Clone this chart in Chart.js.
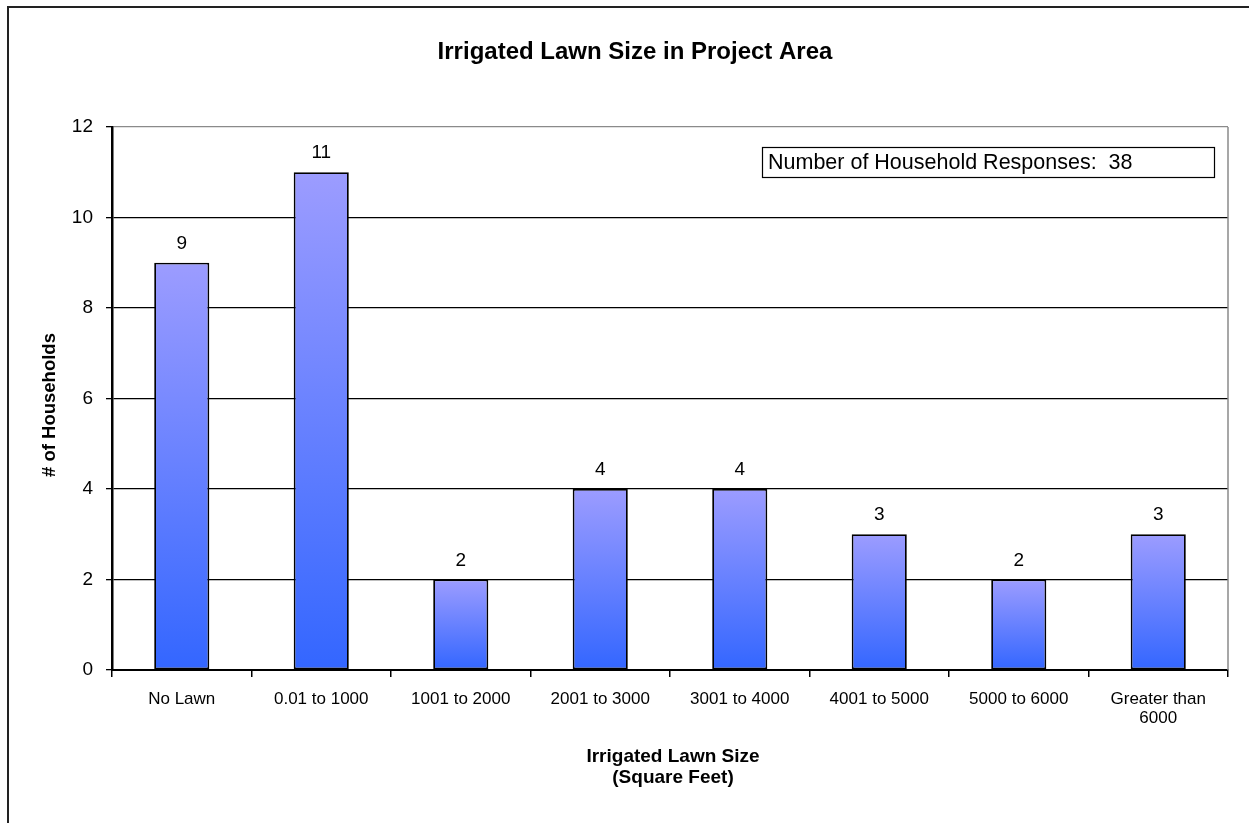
<!DOCTYPE html>
<html>
<head>
<meta charset="utf-8">
<script src="https://cdn.jsdelivr.net/npm/chart.js@4.4.1/dist/chart.umd.min.js"></script>
<style>
  html, body { margin: 0; padding: 0; background: #fff; }
  #wrap { position: relative; width: 1249px; height: 823px; }
</style>
</head>
<body>
<div id="wrap"><canvas id="c" width="1249" height="823"></canvas></div>
<script>
const categories = [
  'No Lawn', '0.01 to 1000', '1001 to 2000', '2001 to 3000',
  '3001 to 4000', '4001 to 5000', '5000 to 6000', ['Greater than', '6000']
];
const households = [9, 11, 2, 4, 4, 3, 2, 3];
const yTicks = [0, 2, 4, 6, 8, 10, 12];
const chartTitle = 'Irrigated Lawn Size in Project Area';
const yTitle = '# of Households';
const xTitle = ['Irrigated Lawn Size', '(Square Feet)'];
const responseNote = 'Number of Household Responses:  38';

const FONT = '"Liberation Sans", Arial, sans-serif';

function barGradient(ctx) {
  const chart = ctx.chart;
  if (!chart.chartArea || ctx.type !== 'data') return '#6680FF';
  const y = chart.scales.y;
  const top = y.getPixelForValue(ctx.parsed.y);
  const base = y.getPixelForValue(0);
  const g = chart.ctx.createLinearGradient(0, top, 0, base);
  g.addColorStop(0, '#9C9CFF');
  g.addColorStop(1, '#3366FF');
  return g;
}

const decorations = {
  id: 'decorations',
  afterDraw(chart) {
    const { ctx, chartArea: a } = chart;
    ctx.save();
    // outer frame
    ctx.strokeStyle = '#222';
    ctx.lineWidth = 2;
    ctx.beginPath();
    ctx.moveTo(8, 823);
    ctx.lineTo(8, 7);
    ctx.lineTo(1249, 7);
    ctx.stroke();

    // plot area right border
    ctx.strokeStyle = '#8a8a8a';
    ctx.lineWidth = 1.5;
    ctx.beginPath();
    ctx.moveTo(a.right, a.top);
    ctx.lineTo(a.right, a.bottom);
    ctx.stroke();

    // title
    ctx.fillStyle = '#000';
    ctx.textAlign = 'center';
    ctx.textBaseline = 'middle';
    ctx.font = 'bold 24px ' + FONT;
    ctx.fillText(chartTitle, 635, 52);

    // x-axis title
    ctx.font = 'bold 19px ' + FONT;
    ctx.fillText(xTitle[0], 673, 757);
    ctx.fillText(xTitle[1], 673, 778);

    // y-axis title
    ctx.save();
    ctx.translate(50, 405);
    ctx.rotate(-Math.PI / 2);
    ctx.font = 'bold 18.5px ' + FONT;
    ctx.fillText(yTitle, 0, 0);
    ctx.restore();

    // value labels
    ctx.font = '19px ' + FONT;
    ctx.textBaseline = 'middle';
    const meta = chart.getDatasetMeta(0);
    meta.data.forEach((bar, i) => {
      ctx.fillText(String(households[i]), bar.x, bar.y - 19);
    });

    // response count box
    ctx.lineWidth = 1.2;
    ctx.strokeStyle = '#000';
    ctx.strokeRect(762.5, 147.5, 452, 30);
    ctx.textAlign = 'left';
    ctx.textBaseline = 'middle';
    ctx.font = '21.5px ' + FONT;
    ctx.fillText(responseNote, 768, 163);
    ctx.restore();
  }
};

new Chart(document.getElementById('c'), {
  type: 'bar',
  data: {
    labels: categories,
    datasets: [{
      data: households,
      backgroundColor: barGradient,
      borderColor: '#000',
      borderWidth: 1.8,
      borderSkipped: false,
      categoryPercentage: 1,
      barPercentage: 0.395
    }]
  },
  options: {
    responsive: false,
    animation: false,
    events: [],
    layout: { padding: { top: 127, right: 21, left: 1, bottom: 0 } },
    plugins: { legend: { display: false }, tooltip: { enabled: false }, title: { display: false } },
    scales: {
      x: {
        afterFit(s) { s.height = 153; },
        grid: { display: true, drawOnChartArea: false, drawTicks: true, tickLength: 7, tickColor: '#000', lineWidth: 1.5, offset: true },
        border: { display: true, color: '#000', width: 2 },
        ticks: { color: '#000', font: { family: FONT, size: 17, lineHeight: 1.1 }, padding: 13, maxRotation: 0, autoSkip: false }
      },
      y: {
        min: 0, max: 12,
        afterFit(s) { s.width = 111; },
        afterBuildTicks(s) { s.ticks = yTicks.map(v => ({ value: v })); },
        grid: {
          color: c => (c.tick && c.tick.value === 12 ? '#8a8a8a' : '#000'),
          lineWidth: 1.3,
          tickLength: 6,
          tickColor: '#000'
        },
        border: { display: true, color: '#000', width: 2.5 },
        ticks: { color: '#000', font: { family: FONT, size: 19 }, padding: 13 }
      }
    }
  },
  plugins: [decorations]
});
</script>
</body>
</html>
